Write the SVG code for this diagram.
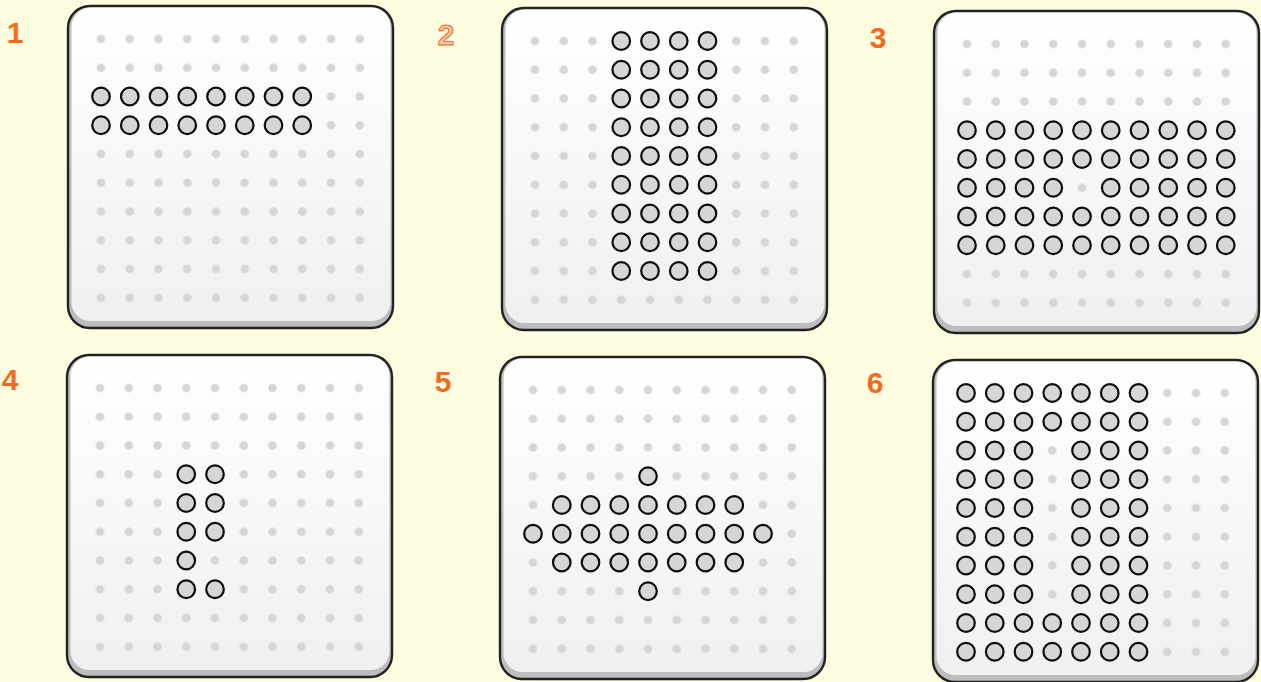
<svg xmlns="http://www.w3.org/2000/svg" xmlns:xlink="http://www.w3.org/1999/xlink" width="1261" height="682" viewBox="0 0 1261 682">
  <style>
    .bg { fill: #fefde0; }
    .board-outer { fill: #bdbdbd; stroke: #222222; stroke-width: 2.4; }
    .board-inner { fill: url(#boardGrad); }
    .grid { fill: url(#dots); }
    .label { font-family: "Liberation Sans", Arial, sans-serif; font-size: 30px; font-weight: bold; fill: #f26a21; text-anchor: middle; }
    .label-outline { fill: #f9c49a; stroke: #ee6426; stroke-width: 0.9; }
  </style>
  <defs>
    <linearGradient id="boardGrad" x1="0" y1="0" x2="0" y2="1">
      <stop offset="0" stop-color="#ffffff"/>
      <stop offset="1" stop-color="#f0f0f0"/>
    </linearGradient>
    <pattern id="dots" patternUnits="userSpaceOnUse" x="18.625" y="18.625" width="28.75" height="28.75">
      <circle cx="14.375" cy="14.375" r="4.3" fill="#d6d6d6"/>
    </pattern>
    <circle id="peg" r="8.8" fill="#d6d6d6" stroke="#0d0d0d" stroke-width="2.2"/>
    <g id="board">
      <rect class="board-outer" x="0" y="0" width="325" height="322" rx="22"/>
      <rect class="board-inner" x="3.5" y="1.6" width="319" height="313.5" rx="19"/>
      <rect class="grid" x="18.625" y="18.625" width="287.5" height="287.5"/>
    </g>
  </defs>

  <rect class="bg" x="0" y="0" width="1261" height="682"/>

  <g id="labels">
    <text class="label" x="15" y="43">1</text>
    <text class="label label-outline" x="446" y="45">2</text>
    <text class="label" x="878" y="48">3</text>
    <text class="label" x="10" y="390">4</text>
    <text class="label" x="443" y="392">5</text>
    <text class="label" x="875" y="393">6</text>
  </g>

  <!-- Board 1 -->
  <g id="board1" transform="translate(68,6)">
    <use href="#board"/>
    <use href="#peg" x="33" y="90.5"/><use href="#peg" x="61.75" y="90.5"/><use href="#peg" x="90.5" y="90.5"/><use href="#peg" x="119.25" y="90.5"/><use href="#peg" x="148" y="90.5"/><use href="#peg" x="176.75" y="90.5"/><use href="#peg" x="205.5" y="90.5"/><use href="#peg" x="234.25" y="90.5"/>
    <use href="#peg" x="33" y="119.25"/><use href="#peg" x="61.75" y="119.25"/><use href="#peg" x="90.5" y="119.25"/><use href="#peg" x="119.25" y="119.25"/><use href="#peg" x="148" y="119.25"/><use href="#peg" x="176.75" y="119.25"/><use href="#peg" x="205.5" y="119.25"/><use href="#peg" x="234.25" y="119.25"/>
  </g>

  <!-- Board 2 -->
  <g id="board2" transform="translate(502,8)">
    <use href="#board"/>
    <use href="#peg" x="119.25" y="33"/><use href="#peg" x="148" y="33"/><use href="#peg" x="176.75" y="33"/><use href="#peg" x="205.5" y="33"/>
    <use href="#peg" x="119.25" y="61.75"/><use href="#peg" x="148" y="61.75"/><use href="#peg" x="176.75" y="61.75"/><use href="#peg" x="205.5" y="61.75"/>
    <use href="#peg" x="119.25" y="90.5"/><use href="#peg" x="148" y="90.5"/><use href="#peg" x="176.75" y="90.5"/><use href="#peg" x="205.5" y="90.5"/>
    <use href="#peg" x="119.25" y="119.25"/><use href="#peg" x="148" y="119.25"/><use href="#peg" x="176.75" y="119.25"/><use href="#peg" x="205.5" y="119.25"/>
    <use href="#peg" x="119.25" y="148"/><use href="#peg" x="148" y="148"/><use href="#peg" x="176.75" y="148"/><use href="#peg" x="205.5" y="148"/>
    <use href="#peg" x="119.25" y="176.75"/><use href="#peg" x="148" y="176.75"/><use href="#peg" x="176.75" y="176.75"/><use href="#peg" x="205.5" y="176.75"/>
    <use href="#peg" x="119.25" y="205.5"/><use href="#peg" x="148" y="205.5"/><use href="#peg" x="176.75" y="205.5"/><use href="#peg" x="205.5" y="205.5"/>
    <use href="#peg" x="119.25" y="234.25"/><use href="#peg" x="148" y="234.25"/><use href="#peg" x="176.75" y="234.25"/><use href="#peg" x="205.5" y="234.25"/>
    <use href="#peg" x="119.25" y="263"/><use href="#peg" x="148" y="263"/><use href="#peg" x="176.75" y="263"/><use href="#peg" x="205.5" y="263"/>
  </g>

  <!-- Board 3 -->
  <g id="board3" transform="translate(934,11)">
    <use href="#board"/>
    <use href="#peg" x="33" y="119.25"/><use href="#peg" x="61.75" y="119.25"/><use href="#peg" x="90.5" y="119.25"/><use href="#peg" x="119.25" y="119.25"/><use href="#peg" x="148" y="119.25"/><use href="#peg" x="176.75" y="119.25"/><use href="#peg" x="205.5" y="119.25"/><use href="#peg" x="234.25" y="119.25"/><use href="#peg" x="263" y="119.25"/><use href="#peg" x="291.75" y="119.25"/>
    <use href="#peg" x="33" y="148"/><use href="#peg" x="61.75" y="148"/><use href="#peg" x="90.5" y="148"/><use href="#peg" x="119.25" y="148"/><use href="#peg" x="148" y="148"/><use href="#peg" x="176.75" y="148"/><use href="#peg" x="205.5" y="148"/><use href="#peg" x="234.25" y="148"/><use href="#peg" x="263" y="148"/><use href="#peg" x="291.75" y="148"/>
    <use href="#peg" x="33" y="176.75"/><use href="#peg" x="61.75" y="176.75"/><use href="#peg" x="90.5" y="176.75"/><use href="#peg" x="119.25" y="176.75"/><use href="#peg" x="176.75" y="176.75"/><use href="#peg" x="205.5" y="176.75"/><use href="#peg" x="234.25" y="176.75"/><use href="#peg" x="263" y="176.75"/><use href="#peg" x="291.75" y="176.75"/>
    <use href="#peg" x="33" y="205.5"/><use href="#peg" x="61.75" y="205.5"/><use href="#peg" x="90.5" y="205.5"/><use href="#peg" x="119.25" y="205.5"/><use href="#peg" x="148" y="205.5"/><use href="#peg" x="176.75" y="205.5"/><use href="#peg" x="205.5" y="205.5"/><use href="#peg" x="234.25" y="205.5"/><use href="#peg" x="263" y="205.5"/><use href="#peg" x="291.75" y="205.5"/>
    <use href="#peg" x="33" y="234.25"/><use href="#peg" x="61.75" y="234.25"/><use href="#peg" x="90.5" y="234.25"/><use href="#peg" x="119.25" y="234.25"/><use href="#peg" x="148" y="234.25"/><use href="#peg" x="176.75" y="234.25"/><use href="#peg" x="205.5" y="234.25"/><use href="#peg" x="234.25" y="234.25"/><use href="#peg" x="263" y="234.25"/><use href="#peg" x="291.75" y="234.25"/>
  </g>

  <!-- Board 4 -->
  <g id="board4" transform="translate(67,355)">
    <use href="#board"/>
    <use href="#peg" x="119.25" y="119.25"/><use href="#peg" x="148" y="119.25"/>
    <use href="#peg" x="119.25" y="148"/><use href="#peg" x="148" y="148"/>
    <use href="#peg" x="119.25" y="176.75"/><use href="#peg" x="148" y="176.75"/>
    <use href="#peg" x="119.25" y="205.5"/>
    <use href="#peg" x="119.25" y="234.25"/><use href="#peg" x="148" y="234.25"/>
  </g>

  <!-- Board 5 -->
  <g id="board5" transform="translate(500,357)">
    <use href="#board"/>
    <use href="#peg" x="148" y="119.25"/>
    <use href="#peg" x="61.75" y="148"/><use href="#peg" x="90.5" y="148"/><use href="#peg" x="119.25" y="148"/><use href="#peg" x="148" y="148"/><use href="#peg" x="176.75" y="148"/><use href="#peg" x="205.5" y="148"/><use href="#peg" x="234.25" y="148"/>
    <use href="#peg" x="33" y="176.75"/><use href="#peg" x="61.75" y="176.75"/><use href="#peg" x="90.5" y="176.75"/><use href="#peg" x="119.25" y="176.75"/><use href="#peg" x="148" y="176.75"/><use href="#peg" x="176.75" y="176.75"/><use href="#peg" x="205.5" y="176.75"/><use href="#peg" x="234.25" y="176.75"/><use href="#peg" x="263" y="176.75"/>
    <use href="#peg" x="61.75" y="205.5"/><use href="#peg" x="90.5" y="205.5"/><use href="#peg" x="119.25" y="205.5"/><use href="#peg" x="148" y="205.5"/><use href="#peg" x="176.75" y="205.5"/><use href="#peg" x="205.5" y="205.5"/><use href="#peg" x="234.25" y="205.5"/>
    <use href="#peg" x="148" y="234.25"/>
  </g>

  <!-- Board 6 -->
  <g id="board6" transform="translate(933,360)">
    <use href="#board"/>
    <use href="#peg" x="33" y="33"/><use href="#peg" x="61.75" y="33"/><use href="#peg" x="90.5" y="33"/><use href="#peg" x="119.25" y="33"/><use href="#peg" x="148" y="33"/><use href="#peg" x="176.75" y="33"/><use href="#peg" x="205.5" y="33"/>
    <use href="#peg" x="33" y="61.75"/><use href="#peg" x="61.75" y="61.75"/><use href="#peg" x="90.5" y="61.75"/><use href="#peg" x="119.25" y="61.75"/><use href="#peg" x="148" y="61.75"/><use href="#peg" x="176.75" y="61.75"/><use href="#peg" x="205.5" y="61.75"/>
    <use href="#peg" x="33" y="90.5"/><use href="#peg" x="61.75" y="90.5"/><use href="#peg" x="90.5" y="90.5"/><use href="#peg" x="148" y="90.5"/><use href="#peg" x="176.75" y="90.5"/><use href="#peg" x="205.5" y="90.5"/>
    <use href="#peg" x="33" y="119.25"/><use href="#peg" x="61.75" y="119.25"/><use href="#peg" x="90.5" y="119.25"/><use href="#peg" x="148" y="119.25"/><use href="#peg" x="176.75" y="119.25"/><use href="#peg" x="205.5" y="119.25"/>
    <use href="#peg" x="33" y="148"/><use href="#peg" x="61.75" y="148"/><use href="#peg" x="90.5" y="148"/><use href="#peg" x="148" y="148"/><use href="#peg" x="176.75" y="148"/><use href="#peg" x="205.5" y="148"/>
    <use href="#peg" x="33" y="176.75"/><use href="#peg" x="61.75" y="176.75"/><use href="#peg" x="90.5" y="176.75"/><use href="#peg" x="148" y="176.75"/><use href="#peg" x="176.75" y="176.75"/><use href="#peg" x="205.5" y="176.75"/>
    <use href="#peg" x="33" y="205.5"/><use href="#peg" x="61.75" y="205.5"/><use href="#peg" x="90.5" y="205.5"/><use href="#peg" x="148" y="205.5"/><use href="#peg" x="176.75" y="205.5"/><use href="#peg" x="205.5" y="205.5"/>
    <use href="#peg" x="33" y="234.25"/><use href="#peg" x="61.75" y="234.25"/><use href="#peg" x="90.5" y="234.25"/><use href="#peg" x="148" y="234.25"/><use href="#peg" x="176.75" y="234.25"/><use href="#peg" x="205.5" y="234.25"/>
    <use href="#peg" x="33" y="263"/><use href="#peg" x="61.75" y="263"/><use href="#peg" x="90.5" y="263"/><use href="#peg" x="119.25" y="263"/><use href="#peg" x="148" y="263"/><use href="#peg" x="176.75" y="263"/><use href="#peg" x="205.5" y="263"/>
    <use href="#peg" x="33" y="291.75"/><use href="#peg" x="61.75" y="291.75"/><use href="#peg" x="90.5" y="291.75"/><use href="#peg" x="119.25" y="291.75"/><use href="#peg" x="148" y="291.75"/><use href="#peg" x="176.75" y="291.75"/><use href="#peg" x="205.5" y="291.75"/>
  </g>
</svg>
